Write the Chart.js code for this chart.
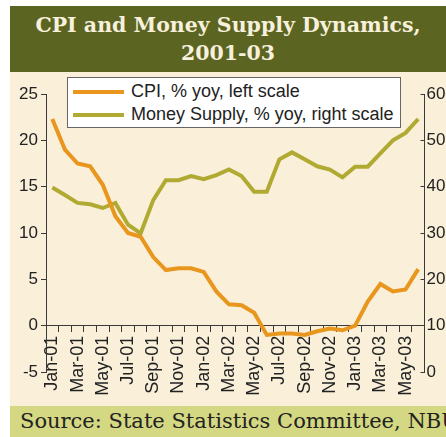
<!DOCTYPE html>
<html>
<head>
<meta charset="utf-8">
<script src="https://cdn.jsdelivr.net/npm/chart.js@4/dist/chart.umd.min.js"></script>
<style>
    html, body { margin: 0; padding: 0; background: #ffffff; }
    body { width: 446px; height: 437px; position: relative; overflow: hidden; }
    #title {
        position: absolute; left: 10px; top: 6px; width: 436px; height: 66px;
        background: #5c6421; color: #f6f0dc;
        font: bold 20.5px "DejaVu Serif", serif; text-align: center; line-height: 28px;
        padding-top: 5px; box-sizing: border-box;
    }
    #plot { position: absolute; left: 10px; top: 72px; width: 436px; height: 334px; background: #faf0da; }
    #source {
        position: absolute; left: 10px; top: 406px; width: 436px; height: 31px;
        background: #d4d882; color: #222; white-space: nowrap; overflow: hidden;
        font: 21px "DejaVu Serif", serif; line-height: 31px; padding-left: 10px; box-sizing: border-box;
    }
    #legend {
        position: absolute; left: 67px; top: 77px; width: 334px; height: 51px;
        background: #fff; border: 1px solid #666; box-sizing: border-box;
        font: 18px "Liberation Sans", sans-serif; color: #222;
    }
    .item { position: absolute; left: 5px; height: 22px; line-height: 22px; white-space: nowrap; }
    .swatch { display: inline-block; width: 51px; height: 4px; vertical-align: middle; margin-right: 7px; }
</style>
</head>
<body>
<div id="title">CPI and Money Supply Dynamics,<br>2001-03</div>
<div id="plot"><canvas id="chart" width="436" height="334"></canvas></div>
<div id="legend"></div>
<div id="source">Source: State Statistics Committee, NBU</div>
<script>
// 月份 Jan-01 .. Jun-03
const months = [
    'Jan-01', 'Feb-01', 'Mar-01', 'Apr-01', 'May-01', 'Jun-01', 'Jul-01', 'Aug-01', 'Sep-01', 'Oct-01', 'Nov-01', 'Dec-01',
    'Jan-02', 'Feb-02', 'Mar-02', 'Apr-02', 'May-02', 'Jun-02', 'Jul-02', 'Aug-02', 'Sep-02', 'Oct-02', 'Nov-02', 'Dec-02',
    'Jan-03', 'Feb-03', 'Mar-03', 'Apr-03', 'May-03', 'Jun-03'
];

// CPI, % yoy (left scale)
const cpiValues = [
    22.3, 19.0, 17.5, 17.2, 15.2, 11.8, 10.0, 9.6, 7.4, 6.0, 6.2, 6.2,
    5.8, 3.7, 2.3, 2.2, 1.4, -1.0, -0.85, -0.85, -1.0, -0.6, -0.3, -0.5,
    0.0, 2.6, 4.5, 3.7, 3.9, 6.1
];

// Money Supply, % yoy (right scale)
const moneyValues = [
    39.8, 38.2, 36.5, 36.2, 35.4, 36.5, 31.8, 29.9, 37.1, 41.4, 41.4, 42.3,
    41.6, 42.5, 43.7, 42.3, 38.9, 38.9, 45.9, 47.4, 45.9, 44.4, 43.7, 42.0,
    44.3, 44.3, 47.2, 50.0, 51.6, 54.6
];

const leftTicks = { min: -5, max: 25, step: 5 };
const rightTicks = { min: 0, max: 60, step: 10 };

const seriesLabels = ['CPI, % yoy, left scale', 'Money Supply, % yoy, right scale'];
const seriesColors = ['#e8961e', '#b0aa32'];

const axisColor = '#3a3a3a';
const tickFont = { family: 'Liberation Sans', size: 17 };

// 清除刻度自动留白, 图表区域完全由 layout.padding 决定
function clearPadding(scale) {
    scale.paddingTop = 0;
    scale.paddingBottom = 0;
    scale.paddingLeft = 0;
    scale.paddingRight = 0;
}

// legend (html)
const legendEl = document.getElementById('legend');
seriesLabels.forEach(function(label, i) {
    const row = document.createElement('div');
    row.className = 'item';
    row.style.top = (i === 0 ? 2 : 25) + 'px';
    row.innerHTML = '<span class="swatch" style="background:' + seriesColors[i] + '"></span>' + label;
    legendEl.appendChild(row);
});

const ctx = document.getElementById('chart').getContext('2d');
const chart = new Chart(ctx, {
    type: 'line',
    data: {
        labels: months,
        datasets: [
            {
                label: seriesLabels[0],
                data: cpiValues,
                borderColor: seriesColors[0],
                borderWidth: 4,
                pointRadius: 0,
                tension: 0,
                yAxisID: 'y'
            },
            {
                label: seriesLabels[1],
                data: moneyValues,
                borderColor: seriesColors[1],
                borderWidth: 4,
                pointRadius: 0,
                tension: 0,
                yAxisID: 'y1'
            }
        ]
    },
    options: {
        responsive: false,
        animation: false,
        layout: { padding: { top: 22, bottom: 34, left: 0, right: 0 } },
        plugins: { legend: { display: false }, tooltip: { enabled: false } },
        scales: {
            x: {
                // x 轴放在 y=0 处
                position: { y: 0 },
                offset: true,
                grid: { offset: true, drawOnChartArea: false, drawTicks: true, tickLength: 6, color: axisColor, lineWidth: 1 },
                border: { display: true, color: axisColor, width: 1 },
                ticks: {
                    autoSkip: false, maxRotation: 90, minRotation: 90, padding: 4,
                    color: '#222', font: { family: 'Liberation Sans', size: 18 },
                    callback: function(value, index) {
                        return index % 2 === 0 ? months[index] : '';
                    }
                },
                afterFit: clearPadding
            },
            y: {
                position: 'left',
                min: leftTicks.min, max: leftTicks.max,
                grid: { drawOnChartArea: false, drawTicks: true, tickLength: 5, color: axisColor },
                border: { display: true, color: axisColor, width: 1 },
                ticks: { stepSize: leftTicks.step, padding: 3, color: '#222', font: tickFont },
                afterFit: function(scale) { clearPadding(scale); scale.width = 36; }
            },
            y1: {
                position: 'right',
                min: rightTicks.min, max: rightTicks.max,
                grid: { drawOnChartArea: false, drawTicks: true, tickLength: -4, color: axisColor },
                border: { display: true, color: axisColor, width: 1 },
                ticks: { stepSize: rightTicks.step, padding: 6, color: '#222', font: tickFont },
                afterFit: function(scale) { clearPadding(scale); scale.width = 21.5; }
            }
        }
    }
});
</script>
</body>
</html>
